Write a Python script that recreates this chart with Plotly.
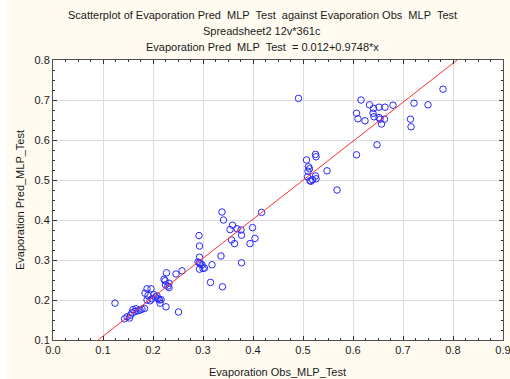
import plotly.graph_objects as go

obs_x = [0.124, 0.143, 0.148, 0.153, 0.155, 0.158, 0.160, 0.164, 0.166, 0.170,
         0.174, 0.178, 0.183, 0.184, 0.188, 0.190, 0.188, 0.196, 0.194, 0.198,
         0.202, 0.205, 0.208, 0.210, 0.213, 0.216, 0.214, 0.226, 0.251, 0.224,
         0.225, 0.222, 0.227, 0.230, 0.232, 0.232, 0.246, 0.258,
         0.292, 0.293, 0.293, 0.290, 0.293, 0.295, 0.298, 0.293, 0.300, 0.303,
         0.318, 0.315, 0.339, 0.336, 0.338, 0.341, 0.354, 0.359, 0.363, 0.357,
         0.368, 0.376, 0.377, 0.377, 0.394, 0.399, 0.404, 0.417,
         0.491, 0.507, 0.525, 0.526, 0.511, 0.513, 0.510, 0.548, 0.509, 0.514,
         0.516, 0.519, 0.525, 0.526, 0.568, 0.607, 0.648,
         0.780, 0.616, 0.633, 0.641, 0.652, 0.664, 0.680, 0.722, 0.750, 0.607,
         0.610, 0.624, 0.640, 0.642, 0.652, 0.654, 0.663, 0.657, 0.715, 0.716]
pred_y = [0.192, 0.153, 0.158, 0.155, 0.162, 0.168, 0.176, 0.171, 0.178, 0.173,
          0.175, 0.177, 0.179, 0.217, 0.228, 0.211, 0.200, 0.228, 0.198, 0.203,
          0.213, 0.207, 0.210, 0.203, 0.200, 0.201, 0.192, 0.183, 0.170, 0.248,
          0.238, 0.252, 0.268, 0.235, 0.242, 0.231, 0.265, 0.273,
          0.361, 0.335, 0.307, 0.295, 0.293, 0.291, 0.288, 0.277, 0.279, 0.280,
          0.288, 0.244, 0.233, 0.310, 0.420, 0.400, 0.376, 0.387, 0.341, 0.350,
          0.378, 0.375, 0.362, 0.293, 0.341, 0.381, 0.354, 0.419,
          0.704, 0.550, 0.564, 0.558, 0.533, 0.528, 0.522, 0.523, 0.508, 0.498,
          0.497, 0.501, 0.510, 0.503, 0.475, 0.563, 0.588,
          0.727, 0.700, 0.688, 0.679, 0.682, 0.682, 0.687, 0.692, 0.688, 0.667,
          0.653, 0.648, 0.667, 0.658, 0.656, 0.652, 0.652, 0.640, 0.652, 0.633]

intercept = 0.012
slope = 0.9748
x_range = [0.0, 0.9]
y_range = [0.1, 0.8]

title_lines = [
    "Scatterplot of Evaporation Pred\u00a0 MLP\u00a0 Test\u00a0 against Evaporation Obs\u00a0 MLP\u00a0 Test",
    "Spreadsheet2 12v*361c",
    "Evaporation Pred\u00a0 MLP\u00a0 Test\u00a0 = 0.012+0.9748*x",
]
x_title = "Evaporation Obs_MLP_Test"
y_title = "Evaporation Pred_MLP_Test"

# fit line clipped to plot area
x0 = (y_range[0] - intercept) / slope
x1 = (y_range[1] - intercept) / slope
fit_x = [x0, x1]
fit_y = [intercept + slope * v for v in fit_x]

font_family = "Liberation Sans, Arial, sans-serif"
txt = "#1a1a1a"

fig = go.Figure()
fig.add_trace(go.Scatter(
    x=obs_x, y=pred_y, mode="markers",
    marker=dict(symbol="circle-open", size=6.5, color="#2828ff", line=dict(width=1, color="#2828ff")),
    showlegend=False, cliponaxis=False,
))
fig.add_trace(go.Scatter(
    x=fit_x, y=fit_y, mode="lines",
    line=dict(color="#ff3030", width=1), showlegend=False,
))

axis_common = dict(
    showgrid=True, gridcolor="#dcdcdc", gridwidth=1,
    showline=True, linecolor="#505050", linewidth=1, mirror="ticks",
    ticks="inside", ticklen=4, tickcolor="#303030",
    dtick=0.1, tickformat=".1f", zeroline=False,
    ticklabeloverflow="allow", automargin=False,
    tickfont=dict(family=font_family, size=11, color=txt),
    minor=dict(dtick=0.025, ticks="inside", ticklen=2, tickcolor="#303030", showgrid=False),
)
fig.update_xaxes(range=x_range, tick0=0, **axis_common)
fig.update_yaxes(range=y_range, tick0=0.1, **axis_common)

W, H = 510, 379
L, R, T, B = 53, 7, 60, 39
pw, ph = W - L - R, H - T - B

def px_to_paper(px, py):
    return (px - L) / pw, (H - B - py) / ph

annotations = []
for line, cy in zip(title_lines, [15, 31.5, 47]):
    ax, ay = px_to_paper(262, cy)
    annotations.append(dict(text=line, x=ax, y=ay, xref="paper", yref="paper",
                            showarrow=False, xanchor="center", yanchor="middle",
                            font=dict(family=font_family, size=11, color=txt)))
ax, ay = px_to_paper(277, 371.5)
annotations.append(dict(text=x_title, x=ax, y=ay, xref="paper", yref="paper",
                        showarrow=False, xanchor="center", yanchor="middle",
                        font=dict(family=font_family, size=11, color=txt)))
ax, ay = px_to_paper(20, 200)
annotations.append(dict(text=y_title, x=ax, y=ay, xref="paper", yref="paper",
                        showarrow=False, xanchor="center", yanchor="middle", textangle=-90,
                        font=dict(family=font_family, size=11, color=txt)))

sx0, _ = px_to_paper(0, 0)
sx1, _ = px_to_paper(7, 0)
_, sy0 = px_to_paper(0, H)
_, sy1 = px_to_paper(0, 0)

fig.update_layout(
    width=W, height=H,
    margin=dict(l=L, r=R, t=T, b=B, pad=0),
    paper_bgcolor="#fffbf0", plot_bgcolor="#ffffff",
    annotations=annotations,
    shapes=[dict(type="rect", xref="paper", yref="paper", x0=sx0, x1=sx1, y0=sy0, y1=sy1,
                 fillcolor="#ffffff", line=dict(width=0), layer="below")],
    font=dict(family=font_family, size=11, color=txt),
)

fig.write_html(
    "out.html",
    config={"displayModeBar": False},
    post_script="document.body.style.margin='0';document.body.style.overflow='hidden';",
)
